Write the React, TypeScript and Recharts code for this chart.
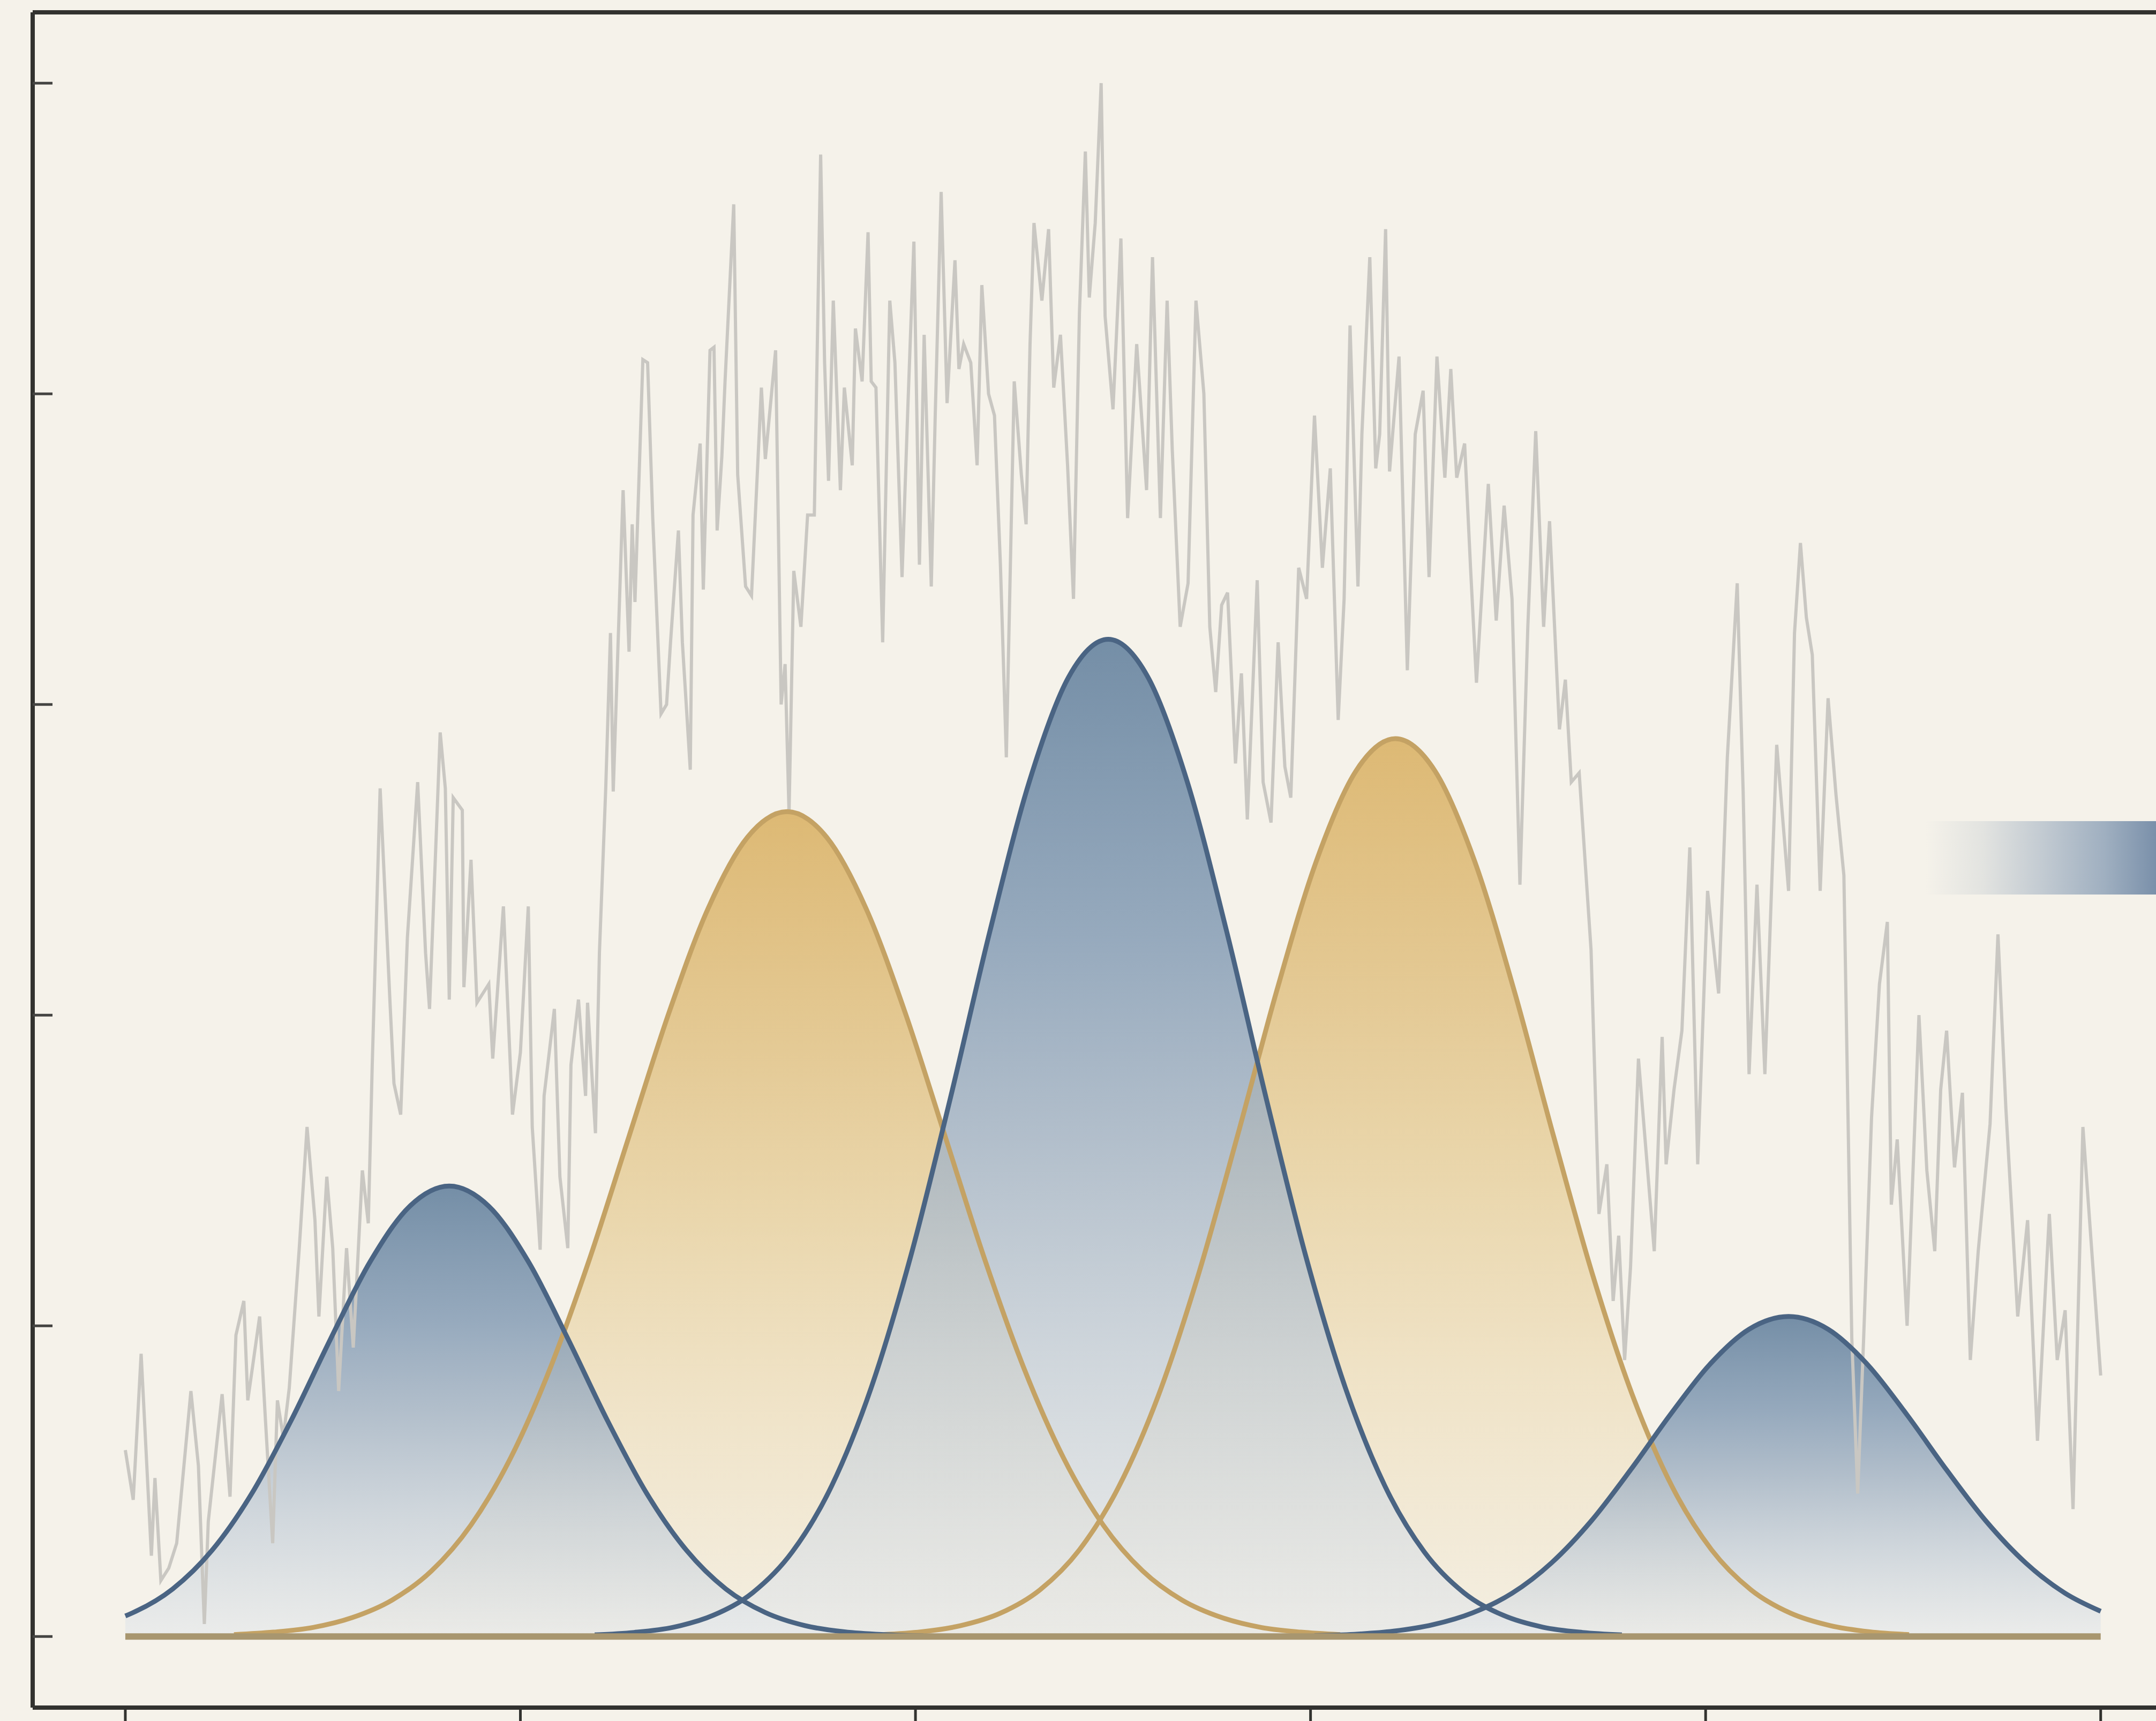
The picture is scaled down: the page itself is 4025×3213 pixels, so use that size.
import React from 'react';
import { ComposedChart, Area, Line, XAxis, YAxis, ReferenceLine } from 'recharts';

const xTicks = [0, 1, 2, 3, 4, 5];
const yTicks = [0, 1, 2, 3, 4, 5];

const signal: [number, number][] = [
  [0.0, 0.6], [0.02, 0.44], [0.04, 0.91], [0.066, 0.26], [0.075, 0.51], [0.09, 0.18], [0.11, 0.22], [0.13, 0.3],
  [0.166, 0.79], [0.185, 0.55], [0.2, 0.04], [0.21, 0.37], [0.245, 0.78], [0.265, 0.45], [0.28, 0.97], [0.3, 1.08],
  [0.31, 0.76], [0.34, 1.03], [0.355, 0.69], [0.373, 0.3], [0.385, 0.76], [0.4, 0.64], [0.415, 0.8], [0.44, 1.245],
  [0.46, 1.64], [0.48, 1.34], [0.49, 1.03], [0.51, 1.48], [0.525, 1.25], [0.54, 0.79], [0.56, 1.25], [0.577, 0.93],
  [0.6, 1.5], [0.615, 1.33], [0.625, 1.84], [0.645, 2.73], [0.67, 2.04], [0.68, 1.78], [0.697, 1.68], [0.714, 2.25],
  [0.74, 2.75], [0.76, 2.2], [0.77, 2.02], [0.797, 2.91], [0.81, 2.73], [0.82, 2.05], [0.83, 2.7], [0.853, 2.66],
  [0.857, 2.09], [0.875, 2.5], [0.89, 2.04], [0.92, 2.1], [0.93, 1.86], [0.957, 2.35], [0.98, 1.68], [1.0, 1.88],
  [1.02, 2.35], [1.03, 1.64], [1.05, 1.245], [1.06, 1.74], [1.086, 2.02], [1.1, 1.48], [1.12, 1.25], [1.128, 1.84],
  [1.147, 2.05], [1.165, 1.74], [1.17, 2.04], [1.19, 1.62], [1.2, 2.2], [1.216, 2.73], [1.228, 3.23], [1.235, 2.72],
  [1.26, 3.69], [1.275, 3.17], [1.283, 3.58], [1.29, 3.33], [1.31, 4.11], [1.322, 4.1], [1.335, 3.6], [1.356, 2.97],
  [1.37, 3.0], [1.38, 3.2], [1.4, 3.56], [1.41, 3.2], [1.43, 2.79], [1.437, 3.61], [1.455, 3.84], [1.463, 3.37],
  [1.48, 4.14], [1.49, 4.15], [1.498, 3.56], [1.51, 3.8], [1.518, 4.04], [1.54, 4.61], [1.55, 3.74], [1.57, 3.38],
  [1.585, 3.35], [1.61, 4.02], [1.62, 3.79], [1.646, 4.14], [1.66, 3.0], [1.67, 3.13], [1.68, 2.65], [1.692, 3.43],
  [1.71, 3.25], [1.727, 3.61], [1.744, 3.61], [1.76, 4.77], [1.77, 4.1], [1.78, 3.72], [1.792, 4.3], [1.81, 3.69],
  [1.82, 4.02], [1.84, 3.77], [1.848, 4.21], [1.865, 4.04], [1.88, 4.52], [1.888, 4.04], [1.9, 4.02], [1.917, 3.2],
  [1.935, 4.3], [1.948, 4.1], [1.966, 3.41], [1.98, 3.93], [1.996, 4.49], [2.01, 3.45], [2.022, 4.19], [2.04, 3.38],
  [2.05, 3.93], [2.065, 4.65], [2.08, 3.97], [2.1, 4.43], [2.11, 4.08], [2.122, 4.16], [2.14, 4.1], [2.156, 3.77],
  [2.168, 4.35], [2.185, 4.0], [2.2, 3.93], [2.215, 3.45], [2.23, 2.83], [2.25, 4.04], [2.268, 3.74], [2.28, 3.58],
  [2.29, 4.16], [2.3, 4.55], [2.32, 4.3], [2.337, 4.53], [2.35, 4.02], [2.367, 4.19], [2.385, 3.77], [2.4, 3.34],
  [2.415, 4.26], [2.43, 4.78], [2.44, 4.31], [2.455, 4.55], [2.47, 5.0], [2.48, 4.25], [2.5, 3.95], [2.52, 4.5],
  [2.537, 3.6], [2.56, 4.16], [2.585, 3.69], [2.6, 4.44], [2.62, 3.6], [2.637, 4.3], [2.65, 3.82], [2.67, 3.25],
  [2.69, 3.39], [2.71, 4.3], [2.73, 4.0], [2.745, 3.25], [2.76, 3.04], [2.775, 3.32], [2.79, 3.36], [2.81, 2.81],
  [2.825, 3.1], [2.84, 2.63], [2.865, 3.4], [2.88, 2.75], [2.9, 2.62], [2.918, 3.2], [2.935, 2.8], [2.95, 2.7],
  [2.97, 3.44], [2.99, 3.34], [3.01, 3.93], [3.03, 3.44], [3.05, 3.76], [3.07, 2.95], [3.085, 3.34], [3.1, 4.22],
  [3.12, 3.38], [3.13, 3.87], [3.15, 4.44], [3.165, 3.76], [3.175, 3.87], [3.19, 4.53], [3.2, 3.75], [3.224, 4.12],
  [3.245, 3.11], [3.265, 3.87], [3.285, 4.01], [3.3, 3.41], [3.32, 4.12], [3.34, 3.73], [3.355, 4.08], [3.37, 3.73],
  [3.39, 3.84], [3.405, 3.44], [3.42, 3.07], [3.45, 3.71], [3.47, 3.27], [3.49, 3.64], [3.51, 3.34], [3.53, 2.42],
  [3.55, 3.25], [3.57, 3.88], [3.59, 3.25], [3.605, 3.59], [3.63, 2.92], [3.645, 3.08], [3.66, 2.75], [3.68, 2.78],
  [3.7, 2.4], [3.71, 2.21], [3.73, 1.36], [3.75, 1.52], [3.766, 1.08], [3.78, 1.29], [3.795, 0.89], [3.81, 1.19],
  [3.83, 1.86], [3.85, 1.55], [3.87, 1.24], [3.89, 1.93], [3.9, 1.52], [3.92, 1.76], [3.94, 1.95], [3.96, 2.54],
  [3.98, 1.52], [4.005, 2.4], [4.033, 2.07], [4.055, 2.83], [4.08, 3.39], [4.095, 2.72], [4.11, 1.81], [4.13, 2.42],
  [4.15, 1.81], [4.18, 2.87], [4.21, 2.4], [4.225, 3.23], [4.24, 3.52], [4.255, 3.28], [4.27, 3.16], [4.29, 2.4],
  [4.31, 3.02], [4.33, 2.71], [4.35, 2.45], [4.37, 0.96], [4.385, 0.46], [4.4, 0.96], [4.42, 1.67], [4.44, 2.1],
  [4.46, 2.3], [4.47, 1.39], [4.485, 1.6], [4.51, 1.0], [4.54, 2.0], [4.56, 1.5], [4.58, 1.24], [4.595, 1.76],
  [4.61, 1.95], [4.63, 1.51], [4.65, 1.75], [4.67, 0.89], [4.69, 1.24], [4.72, 1.65], [4.74, 2.26], [4.76, 1.7],
  [4.79, 1.03], [4.815, 1.34], [4.84, 0.63], [4.87, 1.36], [4.89, 0.89], [4.91, 1.05], [4.93, 0.41], [4.955, 1.64],
  [5.0, 0.84],
];

// fitted components (x, density)
const blue1: [number, number][] = [
  [0, 0.066], [0.02, 0.077], [0.12, 0.153], [0.22, 0.278], [0.32, 0.46], [0.42, 0.696], [0.52, 0.959], [0.62, 1.207],
  [0.72, 1.385], [0.82, 1.45], [0.92, 1.385], [1.02, 1.207], [1.12, 0.959], [1.22, 0.696], [1.32, 0.46], [1.42, 0.278],
  [1.52, 0.153], [1.62, 0.077], [1.72, 0.035], [1.82, 0.015], [1.92, 0.006], [2.02, 0.002],
];
const gold2: [number, number][] = [
  [0.275, 0.006], [0.375, 0.014], [0.475, 0.029], [0.575, 0.061], [0.675, 0.117], [0.775, 0.211], [0.875, 0.359],
  [0.975, 0.574], [1.075, 0.862], [1.175, 1.215], [1.275, 1.61], [1.375, 2.004], [1.475, 2.343], [1.575, 2.573],
  [1.675, 2.655], [1.775, 2.573], [1.875, 2.343], [1.975, 2.004], [2.075, 1.61], [2.175, 1.215], [2.275, 0.862],
  [2.375, 0.574], [2.475, 0.359], [2.575, 0.211], [2.675, 0.117], [2.775, 0.061], [2.875, 0.029], [2.975, 0.014],
  [3.075, 0.006],
];
const blue3: [number, number][] = [
  [1.188, 0.005], [1.288, 0.013], [1.388, 0.03], [1.488, 0.068], [1.588, 0.141], [1.688, 0.272], [1.788, 0.485],
  [1.888, 0.801], [1.988, 1.224], [2.088, 1.731], [2.188, 2.268], [2.288, 2.751], [2.388, 3.089], [2.488, 3.21],
  [2.588, 3.089], [2.688, 2.751], [2.788, 2.268], [2.888, 1.731], [2.988, 1.224], [3.088, 0.801], [3.188, 0.485],
  [3.288, 0.272], [3.388, 0.141], [3.488, 0.068], [3.588, 0.03], [3.688, 0.013], [3.788, 0.005],
];
const gold4: [number, number][] = [
  [1.915, 0.006], [2.015, 0.015], [2.115, 0.035], [2.215, 0.075], [2.315, 0.15], [2.415, 0.279], [2.515, 0.483],
  [2.615, 0.776], [2.715, 1.16], [2.815, 1.611], [2.915, 2.081], [3.015, 2.497], [3.115, 2.786], [3.215, 2.89],
  [3.315, 2.786], [3.415, 2.497], [3.515, 2.081], [3.615, 1.611], [3.715, 1.16], [3.815, 0.776], [3.915, 0.483],
  [4.015, 0.279], [4.115, 0.15], [4.215, 0.075], [4.315, 0.035], [4.415, 0.015], [4.515, 0.006],
];
const blue5: [number, number][] = [
  [3.01, 0.003], [3.11, 0.007], [3.21, 0.017], [3.31, 0.038], [3.41, 0.076], [3.51, 0.139], [3.61, 0.237],
  [3.71, 0.371], [3.81, 0.536], [3.91, 0.713], [4.01, 0.875], [4.11, 0.989], [4.21, 1.03], [4.31, 0.989],
  [4.41, 0.875], [4.51, 0.713], [4.61, 0.536], [4.71, 0.371], [4.81, 0.237], [4.91, 0.139], [5.0, 0.081],
];

const toRows = (pts: [number, number][]) => pts.map(([x, y]) => ({ x, y }));

const BG = '#f5f2ea';
const FRAME = '#32322f';
const BLUE_STROKE = '#4a6483';
const GOLD_STROKE = '#c4a264';

const InnerYTick = (props: any) => {
  const { x, y } = props;
  return (
    <g>
      <line x1={x} x2={x + 37} y1={y} y2={y} stroke="#444442" strokeWidth={5} />
    </g>
  );
};

export default function App() {
  const blueAreas = [blue1, blue3, blue5];
  const goldAreas = [gold2, gold4];
  return (
    <div style={{ position: 'absolute', left: 0, top: 0, width: 4025, height: 3213, background: BG, overflow: 'hidden' }}>
      <ComposedChart width={4025} height={3213} margin={{ top: 22, right: 0, bottom: 0, left: 60 }}>
        <defs>
          <linearGradient id="blueFill" x1="0" y1="0" x2="0" y2="1">
            <stop offset="0%" stopColor="#66839f" stopOpacity={0.9} />
            <stop offset="30%" stopColor="#879eb6" stopOpacity={0.86} />
            <stop offset="50%" stopColor="#a3b3c4" stopOpacity={0.82} />
            <stop offset="72%" stopColor="#c3cdd7" stopOpacity={0.76} />
            <stop offset="100%" stopColor="#e6e9eb" stopOpacity={0.66} />
          </linearGradient>
          <linearGradient id="goldFill" x1="0" y1="0" x2="0" y2="1">
            <stop offset="0%" stopColor="#dbb46a" stopOpacity={0.92} />
            <stop offset="30%" stopColor="#e2c58b" stopOpacity={0.88} />
            <stop offset="50%" stopColor="#e8d2a2" stopOpacity={0.84} />
            <stop offset="72%" stopColor="#eedfbe" stopOpacity={0.78} />
            <stop offset="100%" stopColor="#f3ecdc" stopOpacity={0.68} />
          </linearGradient>
        </defs>
        <XAxis
          dataKey="x"
          type="number"
          domain={[-0.2345, 5.14]}
          allowDataOverflow
          ticks={xTicks}
          tickFormatter={() => ''}
          tickSize={30}
          height={25}
          axisLine={{ stroke: FRAME, strokeWidth: 8 }}
          tickLine={{ stroke: FRAME, strokeWidth: 5 }}
        />
        <XAxis
          xAxisId="top"
          orientation="top"
          dataKey="x"
          type="number"
          domain={[-0.2345, 5.14]}
          allowDataOverflow
          height={1}
          ticks={xTicks}
          tick={false}
          tickLine={false}
          axisLine={{ stroke: FRAME, strokeWidth: 8 }}
        />
        <YAxis
          type="number"
          domain={[-0.229, 5.228]}
          allowDataOverflow
          ticks={yTicks}
          width={1}
          tickSize={0}
          tickMargin={0}
          tick={<InnerYTick />}
          tickLine={false}
          axisLine={{ stroke: FRAME, strokeWidth: 8 }}
        />
        <Line
          data={toRows(signal)}
          dataKey="y"
          type="linear"
          stroke="#c9c7c2"
          strokeWidth={6}
          dot={false}
          activeDot={false}
          isAnimationActive={false}
        />
        {goldAreas.map((pts, i) => (
          <Area
            key={'ga' + i}
            data={toRows(pts)}
            dataKey="y"
            type="monotone"
            baseValue={0}
            stroke="none"
            fill="url(#goldFill)"
            fillOpacity={1}
            dot={false}
            activeDot={false}
            isAnimationActive={false}
          />
        ))}
        {blueAreas.map((pts, i) => (
          <Area
            key={'ba' + i}
            data={toRows(pts)}
            dataKey="y"
            type="monotone"
            baseValue={0}
            stroke="none"
            fill="url(#blueFill)"
            fillOpacity={1}
            dot={false}
            activeDot={false}
            isAnimationActive={false}
          />
        ))}
        {goldAreas.map((pts, i) => (
          <Line
            key={'gl' + i}
            data={toRows(pts)}
            dataKey="y"
            type="monotone"
            stroke={GOLD_STROKE}
            strokeWidth={9}
            dot={false}
            activeDot={false}
            isAnimationActive={false}
          />
        ))}
        {blueAreas.map((pts, i) => (
          <Line
            key={'bl' + i}
            data={toRows(pts)}
            dataKey="y"
            type="monotone"
            stroke={BLUE_STROKE}
            strokeWidth={9}
            dot={false}
            activeDot={false}
            isAnimationActive={false}
          />
        ))}
        <ReferenceLine
          segment={[{ x: 0, y: 0 }, { x: 5, y: 0 }]}
          stroke="#a8966f"
          strokeWidth={12}
        />
      </ComposedChart>
      <div
        style={{
          position: 'absolute',
          left: 3595,
          top: 1533,
          width: 430,
          height: 137,
          background: 'linear-gradient(to right, rgba(245,242,234,0) 0%, #e2e3e0 25%, #c3cbd2 50%, #9fafc0 78%, #7a90aa 100%)',
        }}
      />
    </div>
  );
}
